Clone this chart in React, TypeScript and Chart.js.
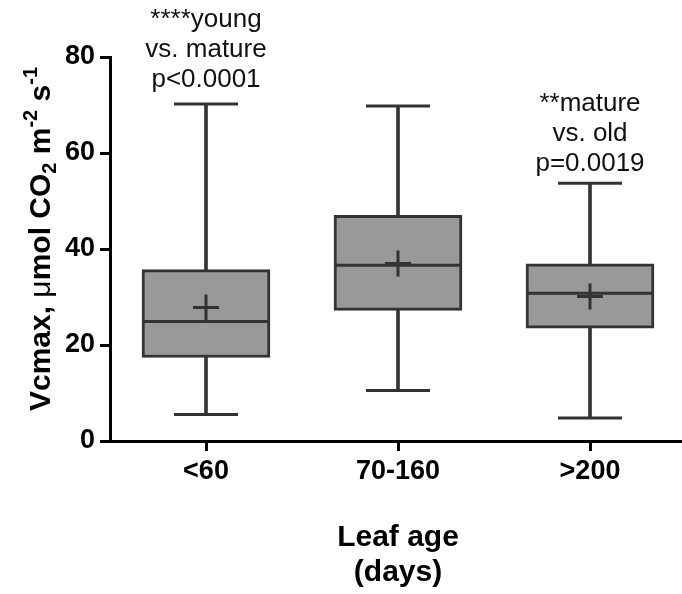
import React, { useEffect, useRef } from "react";
import { Chart, registerables } from "chart.js";

Chart.register(...registerables);

const categories = ["<60", "70-160", ">200"];
const mins = [5.5, 10.5, 4.8];
const q1s = [17.4, 27.2, 23.5];
const medians = [24.9, 36.6, 30.8];
const q3s = [35.7, 47.0, 36.9];
const maxs = [70.2, 69.8, 53.7];
const means = [27.8, 37.0, 30.1];
const yTicks = [0, 20, 40, 60, 80];
const annotations = [
  ["****young", "vs. mature", "p<0.0001"],
  [],
  ["**mature", "vs. old", "p=0.0019"],
];
const annotationBaselines = [
  [27, 57, 87],
  [],
  [111, 141, 171],
];

const FAMILY = "'Liberation Sans', Arial, Helvetica, sans-serif";
const BOX_FILL = "#999999";
const DARK = "#333333";

const textPlugin = {
  id: "textPlugin",
  afterDraw(chart: any) {
    const ctx = chart.ctx;
    const xScale = chart.scales.x;
    ctx.save();
    ctx.fillStyle = "#111";
    ctx.font = `26px ${FAMILY}`;
    ctx.textAlign = "center";
    ctx.textBaseline = "alphabetic";
    annotations.forEach((lines, i) => {
      const x = xScale.getPixelForValue(i);
      lines.forEach((t, j) => {
        ctx.fillText(t, x, annotationBaselines[i][j]);
      });
    });
    ctx.restore();

    const segs: { t: string; font: string; dy: number }[] = [
      { t: "Vcmax, ", font: `bold 30px ${FAMILY}`, dy: 0 },
      { t: "μ", font: `30px ${FAMILY}`, dy: 0 },
      { t: "mol CO", font: `bold 30px ${FAMILY}`, dy: 0 },
      { t: "2", font: `bold 20px ${FAMILY}`, dy: 6 },
      { t: " m", font: `bold 30px ${FAMILY}`, dy: 0 },
      { t: "-2", font: `bold 20px ${FAMILY}`, dy: -13 },
      { t: " s", font: `bold 30px ${FAMILY}`, dy: 0 },
      { t: "-1", font: `bold 20px ${FAMILY}`, dy: -13 },
    ];
    ctx.save();
    let total = 0;
    const widths = segs.map((s) => {
      ctx.font = s.font;
      const w = ctx.measureText(s.t).width;
      total += w;
      return w;
    });
    ctx.translate(50, 239);
    ctx.rotate(-Math.PI / 2);
    ctx.fillStyle = "#000";
    ctx.textAlign = "left";
    ctx.textBaseline = "alphabetic";
    let cx = -total / 2;
    segs.forEach((s, i) => {
      ctx.font = s.font;
      ctx.fillText(s.t, cx, s.dy);
      cx += widths[i];
    });
    ctx.restore();
  },
};

export default function App() {
  const ref = useRef<HTMLCanvasElement | null>(null);
  useEffect(() => {
    if (!ref.current) return;
    const chart = new Chart(ref.current, {
      type: "bar",
      data: {
        labels: categories,
        datasets: [
          {
            type: "line",
            label: "mean",
            data: means,
            showLine: false,
            pointStyle: "cross",
            pointRadius: 13,
            pointBorderWidth: 3,
            pointBorderColor: DARK,
            pointBackgroundColor: DARK,
            order: 0,
          } as any,
          {
            type: "line",
            label: "median",
            data: medians,
            showLine: false,
            pointStyle: "line",
            pointRadius: 63,
            pointBorderWidth: 3,
            pointBorderColor: DARK,
            order: 1,
          } as any,
          {
            type: "bar",
            label: "box",
            data: q1s.map((v, i) => [v, q3s[i]]),
            backgroundColor: BOX_FILL,
            borderColor: DARK,
            borderWidth: 3,
            borderSkipped: false,
            barThickness: 128,
            grouped: false,
            order: 2,
          } as any,
          {
            type: "line",
            label: "maxcap",
            data: maxs,
            showLine: false,
            pointStyle: "line",
            pointRadius: 32,
            pointBorderWidth: 3,
            pointBorderColor: DARK,
            order: 3,
          } as any,
          {
            type: "line",
            label: "mincap",
            data: mins,
            showLine: false,
            pointStyle: "line",
            pointRadius: 32,
            pointBorderWidth: 3,
            pointBorderColor: DARK,
            order: 3,
          } as any,
          {
            type: "bar",
            label: "whisker",
            data: mins.map((v, i) => [v, maxs[i]]),
            backgroundColor: DARK,
            borderWidth: 0,
            barThickness: 3,
            grouped: false,
            order: 4,
          } as any,
        ],
      },
      options: {
        responsive: false,
        animation: false,
        layout: { autoPadding: false, padding: { top: 57, left: 0, right: 0, bottom: 0 } },
        plugins: {
          legend: { display: false },
          tooltip: { enabled: false },
        },
        scales: {
          x: {
            type: "category",
            offset: true,
            afterFit: (s: any) => {
              s.height = 153;
            },
            grid: {
              display: true,
              drawOnChartArea: false,
              drawTicks: true,
              tickLength: 10,
              tickWidth: 3,
              tickColor: "#000",
              offset: false,
            },
            border: { display: true, width: 3, color: "#000" },
            ticks: {
              color: "#000",
              font: { family: FAMILY, size: 27, weight: "bold" },
              padding: 4,
              maxRotation: 0,
            },
            title: {
              display: true,
              text: ["Leaf age", "(days)"],
              color: "#000",
              font: { family: FAMILY, size: 30, weight: "bold", lineHeight: 1.17 },
              padding: { top: 0, bottom: 4 },
            },
          },
          y: {
            min: 0,
            max: 80,
            afterFit: (s: any) => {
              s.width = 110;
            },
            afterBuildTicks: (s: any) => {
              s.ticks = yTicks.map((v) => ({ value: v }));
            },
            grid: {
              display: true,
              drawOnChartArea: false,
              drawTicks: true,
              tickLength: 10,
              tickWidth: 3,
              tickColor: "#000",
            },
            border: { display: true, width: 3, color: "#000" },
            ticks: {
              color: "#000",
              font: { family: FAMILY, size: 27, weight: "bold" },
              padding: 5,
            },
          },
        },
      },
      plugins: [textPlugin],
    });
    return () => chart.destroy();
  }, []);
  return (
    <div
      style={{
        position: "fixed",
        left: 0,
        top: 0,
        width: 682,
        height: 594,
        overflow: "hidden",
        background: "#fff",
      }}
    >
      <canvas ref={ref} width={686} height={594} style={{ display: "block" }} />
    </div>
  );
}
